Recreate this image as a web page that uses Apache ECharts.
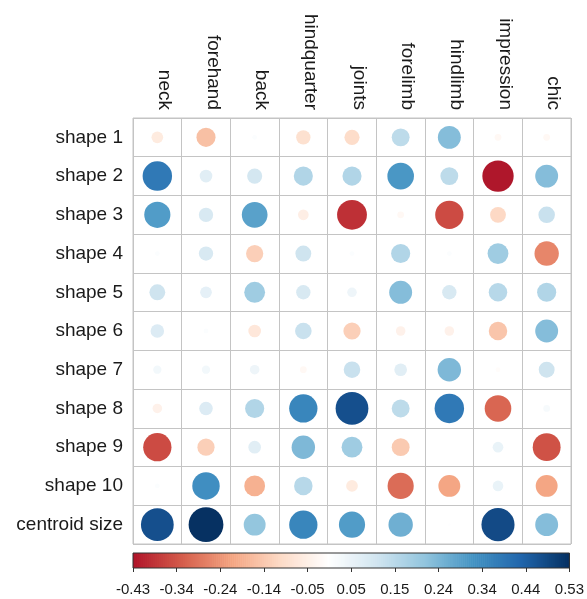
<!DOCTYPE html>
<html>
<head>
<meta charset="utf-8">
<script src="https://cdn.jsdelivr.net/npm/echarts@6/dist/echarts.min.js"></script>
<style>
  html, body { margin: 0; padding: 0; background: #ffffff; }
  #chart { width: 587px; height: 599px; }
</style>
</head>
<body>
<div id="chart"></div>
<script>
// Trait names (columns) and shape variables (rows)
const columns = ['neck', 'forehand', 'back', 'hindquarter', 'joints', 'forelimb', 'hindlimb', 'impression', 'chic'];
const rows = ['shape 1', 'shape 2', 'shape 3', 'shape 4', 'shape 5', 'shape 6', 'shape 7', 'shape 8', 'shape 9', 'shape 10', 'centroid size'];

// Correlation of each shape variable with the traits, in column order
const shape1  = [-0.06, -0.16,  0.01, -0.09, -0.10,  0.14,  0.23, -0.02, -0.02];
const shape2  = [ 0.38,  0.07,  0.10,  0.16,  0.16,  0.31,  0.14, -0.43,  0.23];
const shape3  = [ 0.30,  0.09,  0.29, -0.05, -0.39, -0.02, -0.35, -0.11,  0.12];
const shape4  = [ 0.01,  0.09, -0.13,  0.11,  0.01,  0.16,  0.01,  0.19, -0.26];
const shape5  = [ 0.11,  0.06,  0.19,  0.09,  0.04,  0.23,  0.09,  0.15,  0.16];
const shape6  = [ 0.08,  0.01, -0.07,  0.12, -0.13, -0.04, -0.04, -0.15,  0.23];
const shape7  = [ 0.03,  0.03,  0.04, -0.02,  0.12,  0.07,  0.24, -0.01,  0.11];
const shape8  = [-0.04,  0.08,  0.16,  0.35,  0.47,  0.14,  0.38, -0.31,  0.02];
const shape9  = [-0.35, -0.13,  0.07,  0.24,  0.19, -0.14,  0.00,  0.05, -0.34];
const shape10 = [ 0.01,  0.33, -0.19,  0.15, -0.06, -0.30, -0.21,  0.05, -0.21];
const centroidSize = [0.47, 0.53, 0.21, 0.35, 0.30, 0.26, 0.003, 0.48, 0.23];
const matrix = [shape1, shape2, shape3, shape4, shape5, shape6, shape7, shape8, shape9, shape10, centroidSize];

// Colour legend range and its tick labels
const legendMin = -0.432;
const legendMax = 0.532;
const legendTicks = [-0.432, -0.3356, -0.2392, -0.1428, -0.0464, 0.05, 0.1464, 0.2428, 0.3392, 0.4356, 0.532];
const legendLabels = ['-0.43', '-0.34', '-0.24', '-0.14', '-0.05', '0.05', '0.15', '0.24', '0.34', '0.44', '0.53'];

// Diverging red-white-blue palette spread over [-1, 1] (scaled by the largest |limit|)
const palette = ['#67001F', '#B2182B', '#D6604D', '#F4A582', '#FDDBC7', '#FFFFFF',
                 '#D1E5F0', '#92C5DE', '#4393C3', '#2166AC', '#053061'];
const scaleAbs = Math.max(Math.abs(legendMin), Math.abs(legendMax));

function hexToRgb(h) {
  return [parseInt(h.slice(1, 3), 16), parseInt(h.slice(3, 5), 16), parseInt(h.slice(5, 7), 16)];
}
const paletteRgb = palette.map(hexToRgb);
function colorFor(v) {
  let t = Math.max(-1, Math.min(1, v / scaleAbs));
  const pos = (t + 1) / 2 * (paletteRgb.length - 1);
  const i = Math.min(paletteRgb.length - 2, Math.floor(pos));
  const f = pos - i;
  const a = paletteRgb[i], b = paletteRgb[i + 1];
  const c = a.map((x, k) => Math.round(x + (b[k] - x) * f));
  return 'rgb(' + c.join(',') + ')';
}

const gridLeft = 133, gridTop = 118, gridWidth = 438, gridHeight = 426;
const cellH = gridHeight / rows.length;

const points = [];
matrix.forEach((rowVals, r) => {
  rowVals.forEach((v, c) => points.push([c, r, v]));
});

// Colour legend bar, split into many thin slices
const legendSteps = 220;
const legendSlices = [];
for (let i = 0; i < legendSteps; i++) {
  legendSlices.push([legendMin + (legendMax - legendMin) * i / legendSteps,
                     legendMin + (legendMax - legendMin) * (i + 1) / legendSteps]);
}

const font = 'Liberation Sans, Arial, sans-serif';
const chart = echarts.init(document.getElementById('chart'), null, { renderer: 'canvas' });

chart.setOption({
  backgroundColor: '#ffffff',
  animation: false,
  grid: [
    { left: gridLeft, top: gridTop, width: gridWidth, height: gridHeight,
      show: true, borderColor: '#c4c4c4', borderWidth: 1, backgroundColor: 'transparent' },
    { left: 133, top: 553, width: 439, height: 15 }
  ],
  xAxis: [
    {
      type: 'category', data: columns, position: 'top', gridIndex: 0,
      boundaryGap: true,
      axisLine: { show: false }, axisTick: { show: false },
      splitLine: { show: true, lineStyle: { color: '#c4c4c4', width: 1 } },
      axisLabel: {
        rotate: 90, margin: 8, interval: 0,
        fontFamily: font, fontSize: 19, color: '#1a1a1a',
        verticalAlign: 'bottom', lineHeight: 14
      }
    },
    {
      type: 'value', gridIndex: 1, min: legendMin, max: legendMax,
      axisLine: { show: false }, splitLine: { show: false },
      axisTick: { show: true, customValues: legendTicks, length: 4, lineStyle: { color: '#333333', width: 1 } },
      axisLabel: {
        customValues: legendTicks, margin: 14,
        fontFamily: font, fontSize: 15, color: '#1a1a1a',
        formatter: function (v) {
          let best = 0;
          legendTicks.forEach((t, i) => { if (Math.abs(t - v) < Math.abs(legendTicks[best] - v)) best = i; });
          return legendLabels[best];
        }
      }
    }
  ],
  yAxis: [
    {
      type: 'category', data: rows, inverse: true, gridIndex: 0,
      boundaryGap: true,
      axisLine: { show: false }, axisTick: { show: false },
      splitLine: { show: true, lineStyle: { color: '#c4c4c4', width: 1 } },
      axisLabel: { margin: 10, interval: 0, fontFamily: font, fontSize: 19, color: '#1a1a1a' }
    },
    {
      type: 'value', gridIndex: 1, min: 0, max: 1, show: false
    }
  ],
  series: [
    {
      type: 'scatter', xAxisIndex: 0, yAxisIndex: 0,
      data: points,
      symbol: 'circle',
      symbolSize: function (d) { return 0.9 * cellH * Math.sqrt(Math.abs(d[2]) / scaleAbs); },
      itemStyle: {
        color: function (p) { return colorFor(p.data[2]); },
        opacity: 1
      },
      silent: true
    },
    {
      type: 'custom', xAxisIndex: 1, yAxisIndex: 1,
      data: legendSlices,
      silent: true,
      renderItem: function (params, api) {
        const v0 = api.value(0), v1 = api.value(1);
        const p0 = api.coord([v0, 1]);
        const p1 = api.coord([v1, 0]);
        return {
          type: 'rect',
          shape: { x: p0[0], y: p0[1], width: p1[0] - p0[0] + 0.6, height: p1[1] - p0[1] },
          style: { fill: colorFor((v0 + v1) / 2) }
        };
      }
    },
    {
      type: 'custom', xAxisIndex: 1, yAxisIndex: 1,
      data: [[legendMin, legendMax]],
      silent: true, z: 5,
      renderItem: function (params, api) {
        const p0 = api.coord([api.value(0), 1]);
        const p1 = api.coord([api.value(1), 0]);
        return {
          type: 'rect',
          shape: { x: p0[0], y: p0[1], width: p1[0] - p0[0], height: p1[1] - p0[1] },
          style: { fill: 'none', stroke: '#333333', lineWidth: 1 }
        };
      }
    }
  ]
});
</script>
</body>
</html>
